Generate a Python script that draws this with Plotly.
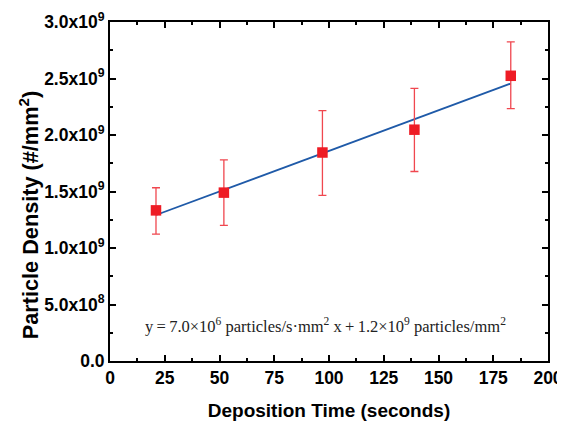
import numpy as np
import plotly.graph_objects as go

# Data
time_s = [21, 52, 97, 139, 183]
density = [1.333e9, 1.49e9, 1.845e9, 2.047e9, 2.524e9]
err_plus = [0.20e9, 0.29e9, 0.37e9, 0.365e9, 0.30e9]
err_minus = [0.21e9, 0.29e9, 0.38e9, 0.37e9, 0.29e9]

y_tickvals = [0, 0.5e9, 1.0e9, 1.5e9, 2.0e9, 2.5e9, 3.0e9]
y_ticktext = ["0.0", "5.0x10<sup>8</sup>", "1.0x10<sup>9</sup>", "1.5x10<sup>9</sup>",
              "2.0x10<sup>9</sup>", "2.5x10<sup>9</sup>", "3.0x10<sup>9</sup>"]
x_tickvals = [0, 25, 50, 75, 100, 125, 150, 175, 200]

# Linear fit drawn from the data
slope, intercept = np.polyfit(time_s, density, 1)
fit_x = [min(time_s), max(time_s)]
fit_y = [slope * v + intercept for v in fit_x]

red = "#ee1c25"
blue = "#1f5aa8"

fig = go.Figure()
fig.add_trace(go.Scatter(
    x=fit_x, y=fit_y, mode="lines",
    line=dict(color=blue, width=1.8), showlegend=False, hoverinfo="skip"))
fig.add_trace(go.Scatter(
    x=time_s, y=density, mode="markers",
    marker=dict(symbol="square", size=10.5, color=red),
    error_y=dict(type="data", array=err_plus, arrayminus=err_minus,
                 color="#f0474f", thickness=1.3, width=4),
    showlegend=False))

fig.add_annotation(
    x=0.493, y=0.105, xref="paper", yref="paper", showarrow=False,
    xanchor="center", yanchor="middle",
    text="y\u2009=\u20097.0×10<sup>6</sup>\u00a0particles/s·mm<sup>2</sup>\u00a0x\u2009+\u20091.2×10<sup>9</sup>\u00a0particles/mm<sup>2</sup>",
    font=dict(family="Liberation Serif", size=16.5, color="#222"))

# y-axis title as a rotated annotation (placed slightly below centre, as in the reference)
fig.add_annotation(
    x=-0.185, y=0.43, xref="paper", yref="paper", showarrow=False,
    xanchor="center", yanchor="middle",
    textangle=-90, text="<b>Particle Density (#/mm<sup>2</sup>)</b>",
    font=dict(family="Liberation Sans", size=21.7, color="black"))

axis_common = dict(
    showline=True, linewidth=2, linecolor="black", mirror="ticks",
    ticks="inside", ticklen=6, tickwidth=2, tickcolor="black",
    showgrid=False, zeroline=False, automargin=False,
    tickfont=dict(family="Liberation Sans", size=17.5, color="black"),
)

fig.update_xaxes(
    **axis_common, range=[0, 200], tickvals=x_tickvals,
    ticktext=["<b>%d</b>" % v for v in x_tickvals],
    minor=dict(ticks="inside", ticklen=3, tickwidth=1.5, tickcolor="black", dtick=12.5, tick0=0),
    title=dict(text="<b>Deposition Time (seconds)</b>", standoff=20,
               font=dict(family="Liberation Sans", size=19, color="black")))
fig.update_yaxes(
    **axis_common, range=[0, 3.0e9], tickvals=y_tickvals,
    ticktext=["<b>%s</b>" % t for t in y_ticktext],
    minor=dict(ticks="inside", ticklen=3, tickwidth=1.5, tickcolor="black", dtick=0.25e9, tick0=0))

fig.update_layout(
    width=557, height=413,
    margin=dict(l=102, r=17, t=14, b=60),
    paper_bgcolor="white", plot_bgcolor="white",
)

fig.write_html("out.html")
